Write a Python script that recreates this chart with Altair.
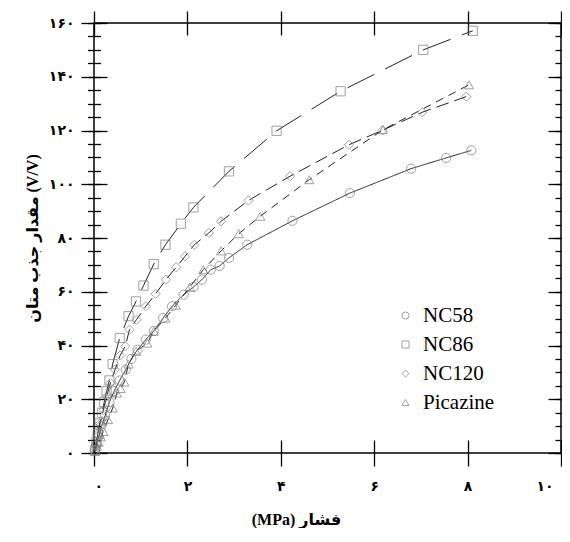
import altair as alt
import pandas as pd

series = ["NC58", "NC86", "NC120", "Picazine"]

nc58_x = [0.02, 0.05, 0.10, 0.16, 0.24, 0.33, 0.43, 0.55, 0.68, 0.80, 0.93, 1.11, 1.28, 1.48,
          1.67, 1.92, 2.13, 2.31, 2.50, 2.69, 2.89, 3.28, 4.25, 5.48, 6.79, 7.54, 8.08]
nc58_y = [1, 3, 6, 10, 14, 19, 23, 27, 31, 35, 38.4, 42.2, 45.4, 50.2,
          54.6, 58.9, 61.8, 64.5, 68.2, 69.6, 72.6, 77.5, 86.4, 96.7, 105.8, 109.8, 112.6]

nc86_x = [0.02, 0.05, 0.08, 0.12, 0.17, 0.22, 0.27, 0.33, 0.40, 0.55, 0.74, 0.90, 1.06, 1.28,
          1.53, 1.86, 2.13, 2.89, 3.91, 5.28, 7.05, 8.11]
nc86_y = [1, 4, 7, 11, 15, 19, 23, 27, 33.1, 42.8, 50.9, 56.4, 62.3, 70.3,
          77.5, 85.3, 91.4, 104.8, 119.9, 134.6, 150.0, 157.1]

nc120_x = [0.02, 0.04, 0.08, 0.13, 0.20, 0.27, 0.35, 0.45, 0.56, 0.67, 0.76, 0.91, 1.11, 1.32,
           1.54, 1.76, 1.95, 2.15, 2.46, 2.72, 3.31, 4.20, 5.46, 6.18, 7.03, 7.97]
nc120_y = [1, 3, 7, 11, 16, 21, 26, 31, 36.3, 39.7, 45.9, 49.6, 54.6, 59.2,
           64.5, 69.1, 73.2, 77.5, 81.9, 86.2, 94.0, 103.0, 114.7, 120.1, 126.8, 132.6]

pic_x = [0.02, 0.06, 0.10, 0.15, 0.20, 0.30, 0.40, 0.49, 0.57, 0.65, 0.74, 0.90, 1.14, 1.28,
         1.53, 1.75, 2.05, 2.34, 2.72, 3.10, 3.56, 4.61, 6.19, 8.03]
pic_y = [0.5, 2.5, 4, 6, 8, 12.4, 16.7, 22.3, 24, 26.4, 33.1, 37.8, 40.9, 45.3,
         50.2, 55.0, 61.7, 68.2, 75.2, 81.6, 88.1, 101.7, 120.3, 137.0]

x_ticks = [0, 2, 4, 6, 8, 10]
x_tick_labels = ["۰", "۲", "۴", "۶", "۸", "۱۰"]
y_ticks = [0, 20, 40, 60, 80, 100, 120, 140, 160]
y_tick_labels = ["۰", "۲۰", "۴۰", "۶۰", "۸۰", "۱۰۰", "۱۲۰", "۱۴۰", "۱۶۰"]
y_minor = list(range(0, 161, 5))

x_title = "(MPa) فشار"
y_title = "مقدار جذب متان (V/V)"

rows = []
for name, xs_, ys_ in [("NC58", nc58_x, nc58_y), ("NC86", nc86_x, nc86_y),
                       ("NC120", nc120_x, nc120_y), ("Picazine", pic_x, pic_y)]:
    for a, b in zip(xs_, ys_):
        rows.append({"series": name, "dash_key": name, "p": a, "v": b})
df = pd.DataFrame(rows)


def label_expr(vals, labels):
    expr = "''"
    for v, l in reversed(list(zip(vals, labels))):
        expr = f"datum.value == {v} ? '{l}' : ({expr})"
    return expr


xsc = alt.Scale(domain=[0, 10])
ysc = alt.Scale(domain=[0, 160])
lab_font = "DejaVu Sans"
tit_font = "Times New Roman, Liberation Serif, DejaVu Sans, serif"
leg_font = "Times New Roman, Liberation Serif, serif"

lines = alt.Chart(df).mark_line(color="#222222", strokeWidth=1).encode(
    x=alt.X("p:Q", scale=xsc, axis=alt.Axis(
        orient="bottom", values=x_ticks, offset=-13, tickSize=26, domain=False, grid=False,
        labelExpr=label_expr(x_ticks, x_tick_labels), labelFont=lab_font, labelFontSize=14,
        labelFontWeight="bold", labelPadding=13, labelColor="black",
        labelOffset={"condition": {"test": "datum.value == 10", "value": -8}, "value": 0},
        title=x_title, titleFont=tit_font, titleFontSize=16, titleFontWeight="bold",
        titleColor="black", titleX=202, titleY=79, titleAlign="center", titleBaseline="middle")),
    y=alt.Y("v:Q", scale=ysc, axis=alt.Axis(
        orient="left", values=y_ticks, offset=-13, tickSize=26, domain=False, grid=False,
        labelExpr=label_expr(y_ticks, y_tick_labels), labelFont=lab_font, labelFontSize=14,
        labelFontWeight="bold", labelPadding=7, labelColor="black",
        title=y_title, titleFont=tit_font, titleFontSize=16, titleFontWeight="bold",
        titleColor="black", titleX=-75, titleY=215, titleAngle=270, titleAlign="center",
        titleBaseline="middle")),
    strokeDash=alt.StrokeDash("dash_key:N", sort=series,
                              scale=alt.Scale(range=[[1, 0], [30, 12], [13, 6], [8, 6]]),
                              legend=None),
    detail="series:N",
)

points = alt.Chart(df).mark_point(filled=False, size=85, strokeWidth=1, color="#7a7a7a").encode(
    x=alt.X("p:Q", scale=xsc, axis=alt.Axis(
        orient="top", values=x_ticks, offset=-12, tickSize=24, domain=False, grid=False,
        labels=False, title=None)),
    y=alt.Y("v:Q", scale=ysc, axis=alt.Axis(
        orient="left", values=y_minor, offset=-6.5, tickSize=13, domain=False, grid=False,
        labels=False, title=None)),
    shape=alt.Shape("series:N", scale=alt.Scale(
        domain=series, range=["circle", "square", "diamond", "triangle-up"]),
        legend=alt.Legend(orient="none", legendX=301, legendY=282, title=None,
                          labelFont=leg_font, labelFontSize=21, labelColor="black",
                          symbolSize=50, symbolStrokeWidth=1, symbolStrokeColor="#7a7a7a",
                          symbolFillColor="white", rowPadding=7, labelOffset=7)),
)

right_major = alt.Chart(df).mark_point(opacity=0).encode(
    x=alt.X("p:Q", scale=xsc, axis=None),
    y=alt.Y("v:Q", scale=ysc, axis=alt.Axis(
        orient="right", values=y_ticks, offset=-13, tickSize=13, domain=False, grid=False,
        labels=False, title=None)),
)

right_minor = alt.Chart(df).mark_point(opacity=0).encode(
    x=alt.X("p:Q", scale=xsc, axis=None),
    y=alt.Y("v:Q", scale=ysc, axis=alt.Axis(
        orient="right", values=y_minor, offset=-6, tickSize=6, domain=False, grid=False,
        labels=False, title=None)),
)

chart = alt.layer(lines, points, right_major, right_minor).resolve_scale(
    x="independent", y="independent"
).properties(
    width=467, height=430,
    autosize=alt.AutoSizeParams(type="none"),
    padding={"left": 86, "top": 15, "right": 1, "bottom": 75},
).configure_view(
    stroke="black", strokeWidth=1.5
).configure_axis(
    tickColor="black", tickWidth=1.3
)

chart.save("out.html", embed_options={"renderer": "svg", "actions": False})
